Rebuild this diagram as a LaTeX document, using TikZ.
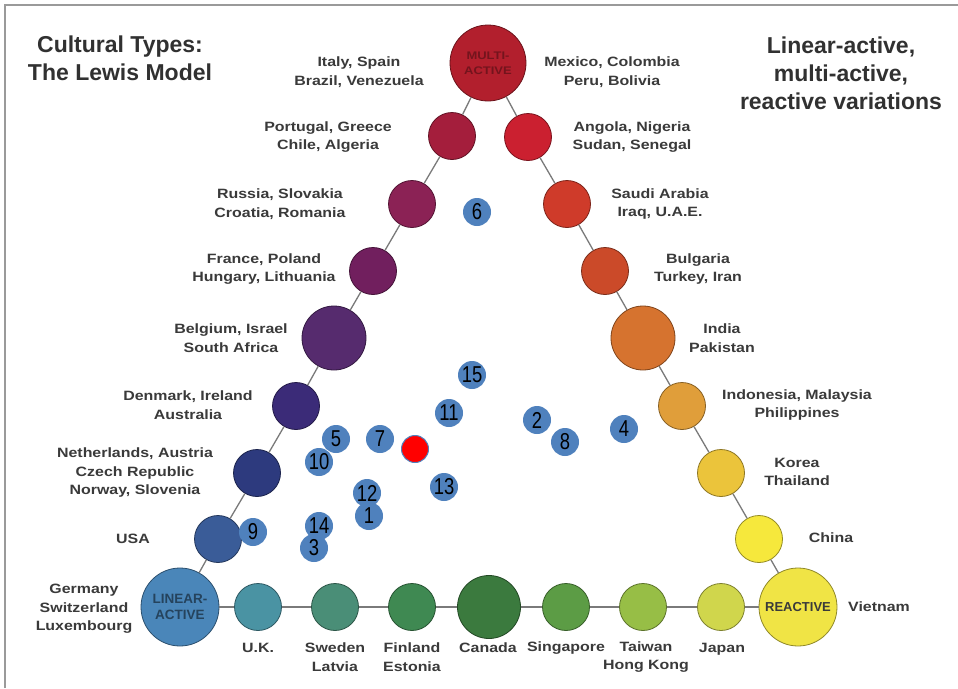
\documentclass[tikz,border=0pt]{standalone}
\usepackage{fontspec}
\setmainfont{Liberation Sans}
\newfontfamily\labfont{Liberation Sans}[FakeStretch=1.18]
\newfontfamily\numfont{Liberation Sans}[FakeStretch=0.8]
\definecolor{labgray}{HTML}{3A3A3A}
\definecolor{framegray}{HTML}{9A9A9A}
\definecolor{linegray}{HTML}{7A7A7A}
\definecolor{dotblue}{HTML}{4F81BD}
\definecolor{cMulti}{HTML}{B21F2D}
\definecolor{cPort}{HTML}{A41E3C}
\definecolor{cRuss}{HTML}{8B2255}
\definecolor{cFran}{HTML}{711F5E}
\definecolor{cBelg}{HTML}{562B6E}
\definecolor{cDenm}{HTML}{3B2B78}
\definecolor{cNeth}{HTML}{2D3A7E}
\definecolor{cUSA}{HTML}{3A5C98}
\definecolor{cLin}{HTML}{4A86B9}
\definecolor{cUK}{HTML}{4A93A3}
\definecolor{cSwe}{HTML}{4A8E77}
\definecolor{cFin}{HTML}{3F8952}
\definecolor{cCan}{HTML}{3B7A3E}
\definecolor{cSing}{HTML}{5C9C45}
\definecolor{cTaiw}{HTML}{97BE46}
\definecolor{cJap}{HTML}{D0D64C}
\definecolor{cReac}{HTML}{F0E445}
\definecolor{cChin}{HTML}{F6E83C}
\definecolor{cKor}{HTML}{EBC43B}
\definecolor{cIndo}{HTML}{E09E3A}
\definecolor{cIndi}{HTML}{D6732F}
\definecolor{cBulg}{HTML}{CB4A29}
\definecolor{cSaud}{HTML}{CF3B2A}
\definecolor{cAngo}{HTML}{CB2030}
\begin{document}
\begin{tikzpicture}[x=1pt,y=-1pt,
  ball/.style 2 args={circle, inner sep=0pt, minimum size=#2, fill=#1, draw=#1!60!black, line width=0.8pt},
  lab/.style={font=\labfont\bfseries\fontsize{13.5}{18.5}\selectfont, text=labgray, align=center, inner sep=0pt},
  ttl/.style={font=\bfseries\fontsize{23}{28}\selectfont, text=labgray!85!black, align=center, inner sep=0pt},
  conn/.style={draw=linegray, line width=1.3pt},
  dot/.style={circle, inner sep=0pt, minimum size=28, fill=dotblue, text=black, font=\numfont\fontsize{23}{23}\selectfont},
  reddot/.style={circle, inner sep=0pt, minimum size=27, fill=red, draw=dotblue, line width=1pt}]
\useasboundingbox (0,0) rectangle (958,688);
\fill[white] (0,0) rectangle (958,688);
\draw[framegray, line width=2pt] (5,688) -- (5,5) -- (958,5);

% titles
\node[ttl] (t1) at (120,58) {Cultural Types:\\The Lewis Model};
\node[ttl] (t2) at (841,73) {Linear-active,\\multi-active,\\reactive variations};

% main circles
\node[ball={cMulti}{76}, font=\labfont\bfseries\fontsize{11}{15}\selectfont, text=cMulti!65!black, align=center] (multi) at (488,63) {MULTI-\\ACTIVE};
\node[ball={cPort}{47}] (port) at (452,136) {};
\node[ball={cRuss}{47}] (russ) at (412,204) {};
\node[ball={cFran}{47}] (fran) at (373,271) {};
\node[ball={cBelg}{64}] (belg) at (334,338) {};
\node[ball={cDenm}{47}] (denm) at (296,406) {};
\node[ball={cNeth}{47}] (neth) at (257,473) {};
\node[ball={cUSA}{47}] (usa) at (218,539) {};
\node[ball={cLin}{78}, font=\bfseries\fontsize{13.5}{16}\selectfont, text=cLin!50!black, align=center] (lin) at (180,607) {LINEAR-\\ACTIVE};
\node[ball={cUK}{47}] (uk) at (258,607) {};
\node[ball={cSwe}{47}] (swe) at (335,607) {};
\node[ball={cFin}{47}] (fin) at (412,607) {};
\node[ball={cCan}{63}] (can) at (489,607) {};
\node[ball={cSing}{47}] (sing) at (566,607) {};
\node[ball={cTaiw}{47}] (taiw) at (643,607) {};
\node[ball={cJap}{47}] (jap) at (721,607) {};
\node[ball={cReac}{78}, font=\bfseries\fontsize{13}{16}\selectfont, text=labgray] (reac) at (798,607) {REACTIVE};
\node[ball={cChin}{47}] (chin) at (759,539) {};
\node[ball={cKor}{47}] (kor) at (721,473) {};
\node[ball={cIndo}{47}] (indo) at (682,406) {};
\node[ball={cIndi}{64}] (indi) at (643,338) {};
\node[ball={cBulg}{47}] (bulg) at (605,271) {};
\node[ball={cSaud}{47}] (saud) at (567,204) {};
\node[ball={cAngo}{47}] (ango) at (528,137) {};

% connectors
\draw[conn] (multi) -- (port);
\draw[conn] (port) -- (russ);
\draw[conn] (russ) -- (fran);
\draw[conn] (fran) -- (belg);
\draw[conn] (belg) -- (denm);
\draw[conn] (denm) -- (neth);
\draw[conn] (neth) -- (usa);
\draw[conn] (usa) -- (lin);
\draw[conn] (lin) -- (uk);
\draw[conn] (uk) -- (swe);
\draw[conn] (swe) -- (fin);
\draw[conn] (fin) -- (can);
\draw[conn] (can) -- (sing);
\draw[conn] (sing) -- (taiw);
\draw[conn] (taiw) -- (jap);
\draw[conn] (jap) -- (reac);
\draw[conn] (reac) -- (chin);
\draw[conn] (chin) -- (kor);
\draw[conn] (kor) -- (indo);
\draw[conn] (indo) -- (indi);
\draw[conn] (indi) -- (bulg);
\draw[conn] (bulg) -- (saud);
\draw[conn] (saud) -- (ango);
\draw[conn] (ango) -- (multi);

% left labels
\node[lab] (lItaly) at (359,72) {Italy, Spain\\Brazil, Venezuela};
\node[lab] (lPort) at (328,137) {Portugal, Greece\\Chile, Algeria};
\node[lab] (lRuss) at (280,204) {Russia, Slovakia\\Croatia, Romania};
\node[lab] (lFran) at (264,269) {France, Poland\\Hungary, Lithuania};
\node[lab] (lBelg) at (231,338) {Belgium, Israel\\South Africa};
\node[lab] (lDenm) at (188,405) {Denmark, Ireland\\Australia};
\node[lab] (lNeth) at (135,473) {Netherlands, Austria\\Czech Republic\\Norway, Slovenia};
\node[lab] (lUSA) at (133,539) {USA};
\node[lab] (lGer) at (84,609) {Germany\\Switzerland\\Luxembourg};
% bottom labels
\node[lab] (lUK) at (258,648) {U.K.};
\node[lab] (lSwe) at (335,657) {Sweden\\Latvia};
\node[lab] (lFin) at (412,657) {Finland\\Estonia};
\node[lab] (lCan) at (488,648) {Canada};
\node[lab] (lSing) at (566,648) {Singapore};
\node[lab] (lTaiw) at (646,657) {Taiwan\\Hong Kong};
\node[lab] (lJap) at (722,649) {Japan};
\node[lab] (lViet) at (879,607) {Vietnam};
% right labels
\node[lab] (lMex) at (612,72) {Mexico, Colombia\\Peru, Bolivia};
\node[lab] (lAngo) at (632,137) {Angola, Nigeria\\Sudan, Senegal};
\node[lab] (lSaud) at (660,204) {Saudi Arabia\\Iraq, U.A.E.};
\node[lab] (lBulg) at (698,269) {Bulgaria\\Turkey, Iran};
\node[lab] (lIndi) at (722,338) {India\\Pakistan};
\node[lab] (lIndo) at (797,405) {Indonesia, Malaysia\\Philippines};
\node[lab] (lKor) at (797,472) {Korea\\Thailand};
\node[lab] (lChin) at (831,538) {China};

% numbered dots
\node[dot] (d6) at (477,212) {6};
\node[dot] (d15) at (472,375) {15};
\node[dot] (d11) at (449,413) {11};
\node[dot] (d2) at (537,420) {2};
\node[dot] (d8) at (565,442) {8};
\node[dot] (d4) at (624,429) {4};
\node[dot] (d5) at (336,439) {5};
\node[dot] (d7) at (380,439) {7};
\node[reddot] (dred) at (415,449) {};
\node[dot] (d10) at (319,462) {10};
\node[dot] (d12) at (367,493) {12};
\node[dot] (d13) at (444,487) {13};
\node[dot] (d1) at (369,516) {1};
\node[dot] (d14) at (319,526) {14};
\node[dot] (d3) at (314,548) {3};
\node[dot] (d9) at (253,532) {9};
\end{tikzpicture}
\end{document}
